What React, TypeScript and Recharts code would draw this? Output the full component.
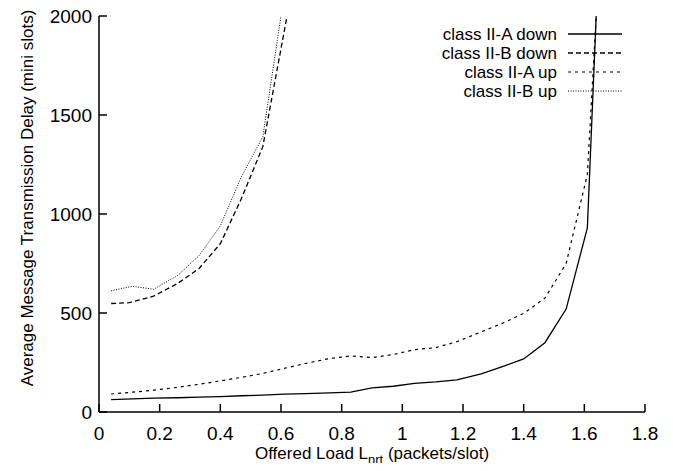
import React from "react";
import { LineChart, Line, XAxis, YAxis } from "recharts";

// offered load (packets/slot) vs average delay (mini slots)
const aDownLoad = [0.04, 0.11, 0.18, 0.26, 0.33, 0.4, 0.47, 0.54, 0.61, 0.68, 0.76, 0.83, 0.9, 0.97, 1.04, 1.11, 1.18, 1.26, 1.33, 1.4, 1.47, 1.54, 1.61, 1.65];
const aDownDelay = [62, 66, 70, 72, 75, 78, 82, 85, 90, 93, 97, 100, 122, 130, 145, 152, 162, 192, 229, 268, 350, 520, 930, 2400];

const bDownLoad = [0.04, 0.1, 0.18, 0.26, 0.33, 0.4, 0.47, 0.54, 0.62];
const bDownDelay = [548, 552, 585, 650, 725, 850, 1080, 1340, 2000];

const aUpLoad = [0.04, 0.11, 0.18, 0.26, 0.33, 0.4, 0.47, 0.54, 0.61, 0.68, 0.76, 0.83, 0.9, 0.97, 1.04, 1.11, 1.18, 1.26, 1.33, 1.4, 1.47, 1.54, 1.61, 1.65];
const aUpDelay = [91, 100, 110, 125, 140, 157, 175, 195, 220, 245, 270, 283, 275, 290, 315, 325, 355, 405, 448, 498, 575, 750, 1200, 2300];

const bUpLoad = [0.04, 0.11, 0.18, 0.26, 0.33, 0.4, 0.47, 0.54, 0.6];
const bUpDelay = [612, 635, 620, 690, 790, 940, 1190, 1390, 2000];

const xTicks = [0, 0.2, 0.4, 0.6, 0.8, 1, 1.2, 1.4, 1.6, 1.8];
const yTicks = [0, 500, 1000, 1500, 2000];

const toPoints = (xs: number[], ys: number[]) => xs.map((x, i) => ({ x, y: ys[i] }));

const series = [
  { name: "class II-A down", data: toPoints(aDownLoad, aDownDelay), dash: undefined, width: 1.3 },
  { name: "class II-B down", data: toPoints(bDownLoad, bDownDelay), dash: "5 3", width: 1.3 },
  { name: "class II-A up", data: toPoints(aUpLoad, aUpDelay), dash: "3 4", width: 1.2 },
  { name: "class II-B up", data: toPoints(bUpLoad, bUpDelay), dash: "1 1.5", width: 1 },
];

const FONT = "'Liberation Sans', Arial, Helvetica, sans-serif";
const TICK = 8;

const BottomTick = (props: any) => {
  const { x, y, payload } = props;
  return (
    <g>
      <line x1={x} y1={y} x2={x} y2={y - TICK} stroke="#000" strokeWidth={1.5} />
      <text x={x} y={y + 28} textAnchor="middle" fontSize={19} fontFamily={FONT} fill="#000">
        {payload.value}
      </text>
    </g>
  );
};

const TopTick = (props: any) => {
  const { x, y } = props;
  return <line x1={x} y1={y} x2={x} y2={y + TICK} stroke="#000" strokeWidth={1.5} />;
};

const LeftTick = (props: any) => {
  const { x, y, payload } = props;
  return (
    <g>
      <line x1={x} y1={y} x2={x + TICK} y2={y} stroke="#000" strokeWidth={1.5} />
      <text x={x - 7} y={y + 7} textAnchor="end" fontSize={19} fontFamily={FONT} fill="#000">
        {payload.value}
      </text>
    </g>
  );
};

const RightTick = (props: any) => {
  const { x, y } = props;
  return <line x1={x} y1={y} x2={x - TICK} y2={y} stroke="#000" strokeWidth={1.5} />;
};

const XTitle = (props: any) => {
  const vb = props.viewBox;
  return (
    <text x={vb.x + vb.width / 2} y={vb.y + 47} textAnchor="middle" fontSize={17} fontFamily={FONT} fill="#000">
      Offered Load L
      <tspan fontSize={13} dy={5}>nrt</tspan>
      <tspan dy={-5}> (packets/slot)</tspan>
    </text>
  );
};

const YTitle = (props: any) => {
  const vb = props.viewBox;
  const cx = vb.x + 19;
  const cy = vb.y + vb.height / 2 - 16;
  return (
    <text
      x={cx}
      y={cy}
      transform={`rotate(-90 ${cx} ${cy})`}
      textAnchor="middle"
      dominantBaseline="central"
      fontSize={17}
      fontFamily={FONT}
      fill="#000"
    >
      Average Message Transmission Delay (mini slots)
    </text>
  );
};

const Key = () => (
  <svg width={230} height={90} style={{ position: "absolute", left: 422, top: 24 }}>
    {series.map((s, i) => {
      const y = 10 + i * 19;
      return (
        <g key={s.name}>
          <text x={135} y={y + 6} textAnchor="end" fontSize={17} fontFamily={FONT} fill="#000">
            {s.name}
          </text>
          <line x1={146} y1={y} x2={200} y2={y} stroke="#000" strokeWidth={s.width} strokeDasharray={s.dash} />
        </g>
      );
    })}
  </svg>
);

export default function App() {
  return (
    <div style={{ position: "relative", width: 673, height: 471, margin: -8 }}>
      <LineChart width={673} height={471} margin={{ top: 16, right: 28, left: 8, bottom: 3 }}>
        <XAxis
          xAxisId="b"
          type="number"
          dataKey="x"
          domain={[0, 1.8]}
          ticks={xTicks}
          allowDataOverflow
          height={56}
          tickSize={0}
          tickMargin={0}
          tickLine={false}
          axisLine={{ stroke: "#000", strokeWidth: 1.5 }}
          tick={<BottomTick />}
          interval={0}
          label={<XTitle />}
        />
        <XAxis
          xAxisId="t"
          orientation="top"
          type="number"
          dataKey="x"
          domain={[0, 1.8]}
          ticks={xTicks}
          allowDataOverflow
          height={0}
          tickSize={0}
          tickMargin={0}
          tickLine={false}
          axisLine={{ stroke: "#000", strokeWidth: 1.5 }}
          tick={<TopTick />}
          interval={0}
        />
        <YAxis
          yAxisId="l"
          type="number"
          dataKey="y"
          domain={[0, 2000]}
          ticks={yTicks}
          allowDataOverflow
          width={91}
          tickSize={0}
          tickMargin={0}
          tickLine={false}
          axisLine={{ stroke: "#000", strokeWidth: 1.5 }}
          tick={<LeftTick />}
          interval={0}
          label={<YTitle />}
        />
        <YAxis
          yAxisId="r"
          orientation="right"
          type="number"
          dataKey="y"
          domain={[0, 2000]}
          ticks={yTicks}
          allowDataOverflow
          width={0}
          tickSize={0}
          tickMargin={0}
          tickLine={false}
          axisLine={{ stroke: "#000", strokeWidth: 1.5 }}
          tick={<RightTick />}
          interval={0}
        />
        {series.map((s) => (
          <Line
            key={s.name}
            xAxisId="b"
            yAxisId="l"
            data={s.data}
            dataKey="y"
            name={s.name}
            type="linear"
            stroke="#000"
            strokeWidth={s.width}
            strokeDasharray={s.dash}
            dot={false}
            activeDot={false}
            isAnimationActive={false}
          />
        ))}
      </LineChart>
      <Key />
    </div>
  );
}
